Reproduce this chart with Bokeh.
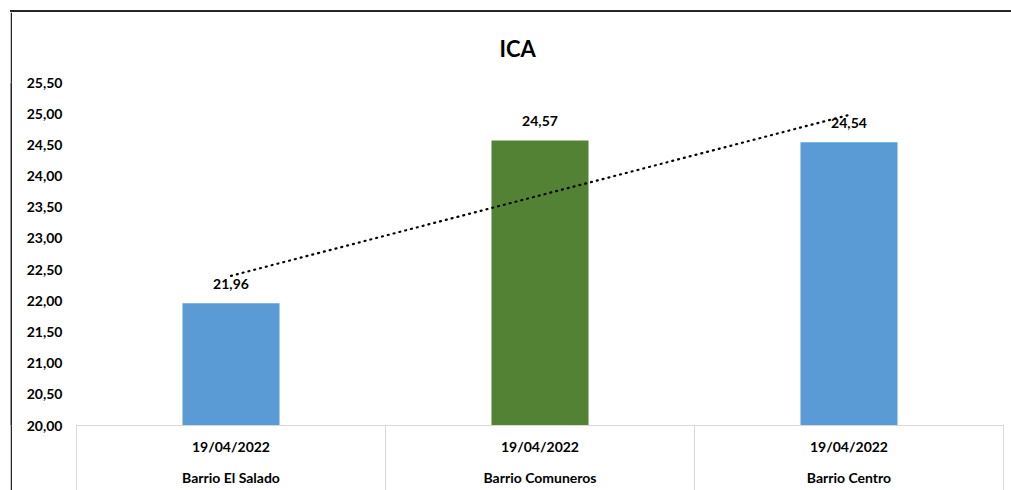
import numpy as np
from bokeh.plotting import figure
from bokeh.layouts import row, column
from bokeh.models import (FixedTicker, LinearAxis, ColumnDataSource, Range1d, Title, Spacer)
from bokeh.core.properties import value
from bokeh.embed import file_html
from bokeh.resources import INLINE

# ---- data ----
locations = ["Barrio El Salado", "Barrio Comuneros", "Barrio Centro"]
dates = ["19/04/2022", "19/04/2022", "19/04/2022"]
ica_values = [21.96, 24.57, 24.54]
bar_colors = ["#5B9BD5", "#548235", "#5B9BD5"]
y_ticks = [20.0, 20.5, 21.0, 21.5, 22.0, 22.5, 23.0, 23.5, 24.0, 24.5, 25.0, 25.5]
y_tick_labels = ["20,00", "20,50", "21,00", "21,50", "22,00", "22,50",
                 "23,00", "23,50", "24,00", "24,50", "25,00", "25,50"]

FONT = "Lato"
n = len(locations)
xs = [i + 0.5 for i in range(n)]

src = ColumnDataSource(dict(
    x=xs, top=ica_values, color=bar_colors,
    label=[f"{v:.2f}".replace(".", ",") for v in ica_values],
))

p = figure(width=999, height=478, output_backend="svg", toolbar_location=None,
           x_range=Range1d(0, n), y_range=Range1d(20.0, 25.5),
           min_border_left=64, min_border_right=8, min_border_top=69, min_border_bottom=65,
           x_axis_location=None, y_axis_location=None)
p.outline_line_color = None
p.xgrid.visible = False
p.ygrid.visible = False
p.background_fill_color = "white"
p.border_fill_color = "white"

# title
t = Title(text="ICA", align="left", offset=423, text_font=FONT, text_font_size="22px",
          text_font_style="bold", text_color="black", standoff=41)
p.add_layout(t, "above")

# y axis
yax = LinearAxis(ticker=FixedTicker(ticks=y_ticks, minor_ticks=[]),
                 major_label_overrides={tk: lb for tk, lb in zip(y_ticks, y_tick_labels)})
yax.axis_line_color = None
yax.major_tick_line_color = None
yax.minor_tick_line_color = None
yax.major_label_text_font = FONT
yax.major_label_text_font_size = "14px"
yax.major_label_text_font_style = "bold"
yax.major_label_text_color = "black"
yax.major_label_standoff = 8
p.add_layout(yax, "left")

# x axis: dates (with category separators as minor ticks)
xa = LinearAxis(ticker=FixedTicker(ticks=xs, minor_ticks=list(range(n + 1))),
                major_label_overrides={x: d for x, d in zip(xs, dates)})
xa.axis_line_color = "#D9D9D9"
xa.axis_line_width = 1
xa.major_tick_line_color = None
xa.minor_tick_line_color = "#D9D9D9"
xa.minor_tick_in = 0
xa.minor_tick_out = 70
xa.major_tick_out = 0
xa.major_tick_in = 0
xa.major_label_text_font = FONT
xa.major_label_text_font_size = "14px"
xa.major_label_text_font_style = "bold"
xa.major_label_text_color = "black"
xa.major_label_standoff = -58
p.add_layout(xa, "below")

# x axis: locations
xb = LinearAxis(ticker=FixedTicker(ticks=xs, minor_ticks=[]),
                major_label_overrides={x: l for x, l in zip(xs, locations)})
xb.axis_line_color = None
xb.major_tick_line_color = None
xb.minor_tick_line_color = None
xb.major_tick_out = 0
xb.major_tick_in = 0
xb.major_label_text_font = FONT
xb.major_label_text_font_size = "14px"
xb.major_label_text_font_style = "bold"
xb.major_label_text_color = "black"
xb.major_label_standoff = 11
p.add_layout(xb, "below")

# bars
p.vbar(x="x", top="top", bottom=20.0, width=0.314, color="color", line_color=None, source=src)

# linear trendline (as Excel)
coef = np.polyfit(np.array(xs), np.array(ica_values), 1)
tx = [xs[0], xs[-1]]
ty = [float(np.polyval(coef, v)) for v in tx]
p.line(tx, ty, line_color="black", line_width=2.2, line_dash="1 5", line_cap="round")

# data labels
p.text(x="x", y="top", text="label", source=src, text_align="center", text_baseline="bottom",
       y_offset=-14, text_font=value(FONT), text_font_size="14px", text_font_style="bold",
       text_color="black")


def vstrip(w, h):
    s = figure(width=w, height=h, output_backend="svg", toolbar_location=None,
               x_range=Range1d(0, 1), y_range=Range1d(0, 1),
               min_border=0, x_axis_location=None, y_axis_location=None)
    s.outline_line_color = None
    s.grid.visible = False
    s.background_fill_color = "#262626"
    s.border_fill_color = "#262626"
    return s


top_border = Spacer(width=1001, height=2, styles={"background-color": "#262626"})
chart_border_box = column(top_border, row(vstrip(2, 478), p, spacing=0), spacing=0)
page = column(Spacer(width=1011, height=10),
              row(Spacer(width=10, height=480), chart_border_box, spacing=0),
              spacing=0)

open("out.html", "w").write(file_html(page, INLINE))
